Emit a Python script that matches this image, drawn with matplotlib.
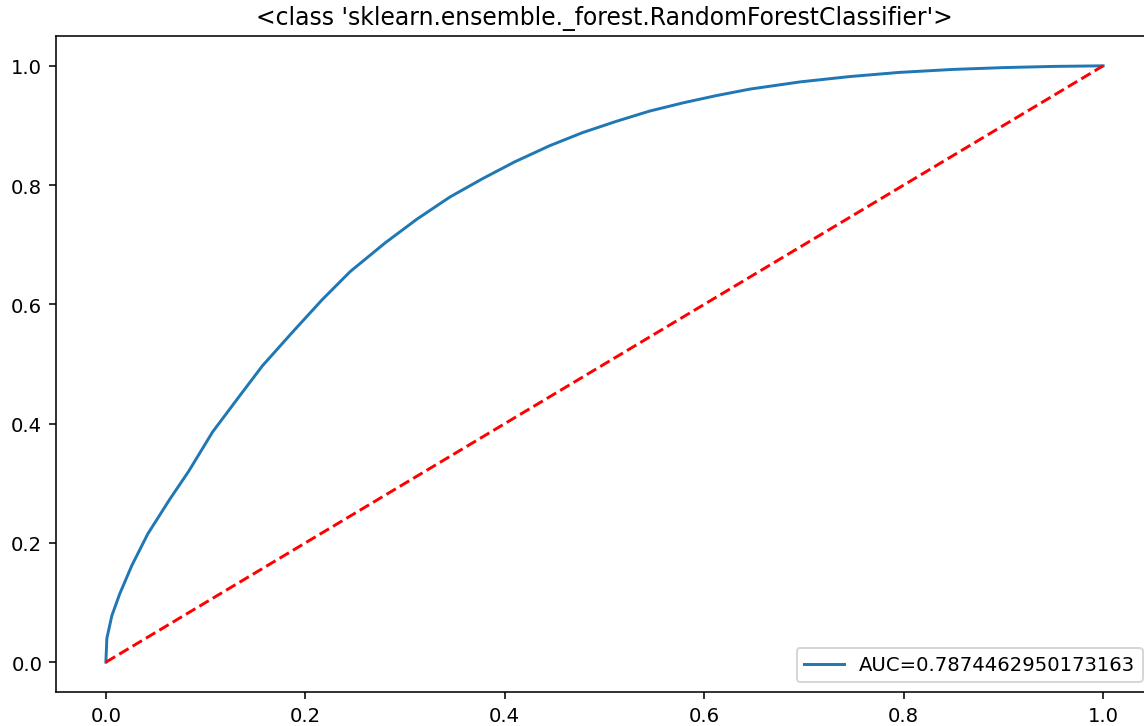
import matplotlib
matplotlib.use("Agg")
import matplotlib.pyplot as plt

fpr = [0.0, 0.001, 0.006, 0.014, 0.026, 0.042, 0.064, 0.083, 0.107, 0.133, 0.157, 0.188, 0.217,
       0.245, 0.28, 0.312, 0.345, 0.378, 0.41, 0.445, 0.478, 0.512, 0.545, 0.579, 0.612, 0.646,
       0.696, 0.746, 0.796, 0.85, 0.9, 0.95, 1.0]
tpr = [0.0, 0.04, 0.078, 0.115, 0.162, 0.215, 0.273, 0.32, 0.386, 0.444, 0.497, 0.555, 0.608,
       0.655, 0.703, 0.743, 0.780, 0.811, 0.839, 0.866, 0.888, 0.907, 0.924, 0.938, 0.950, 0.961,
       0.973, 0.982, 0.989, 0.994, 0.997, 0.999, 1.0]
diag = [0.0, 1.0]
auc_label = "AUC=0.7874462950173163"
title = "<class 'sklearn.ensemble._forest.RandomForestClassifier'>"

dpi = 141
W, H = 1144, 727
fig = plt.figure(figsize=(W / dpi, H / dpi), dpi=dpi)
ax = fig.add_axes([56 / W, 1 - 693 / H, (1153 - 56) / W, (693 - 37) / H])
ax.plot(fpr, tpr, label=auc_label)
ax.plot(diag, diag, 'r--')
ax.legend(loc='lower right')
ax.set_title(title)
fig.savefig("out.png", dpi=dpi)
